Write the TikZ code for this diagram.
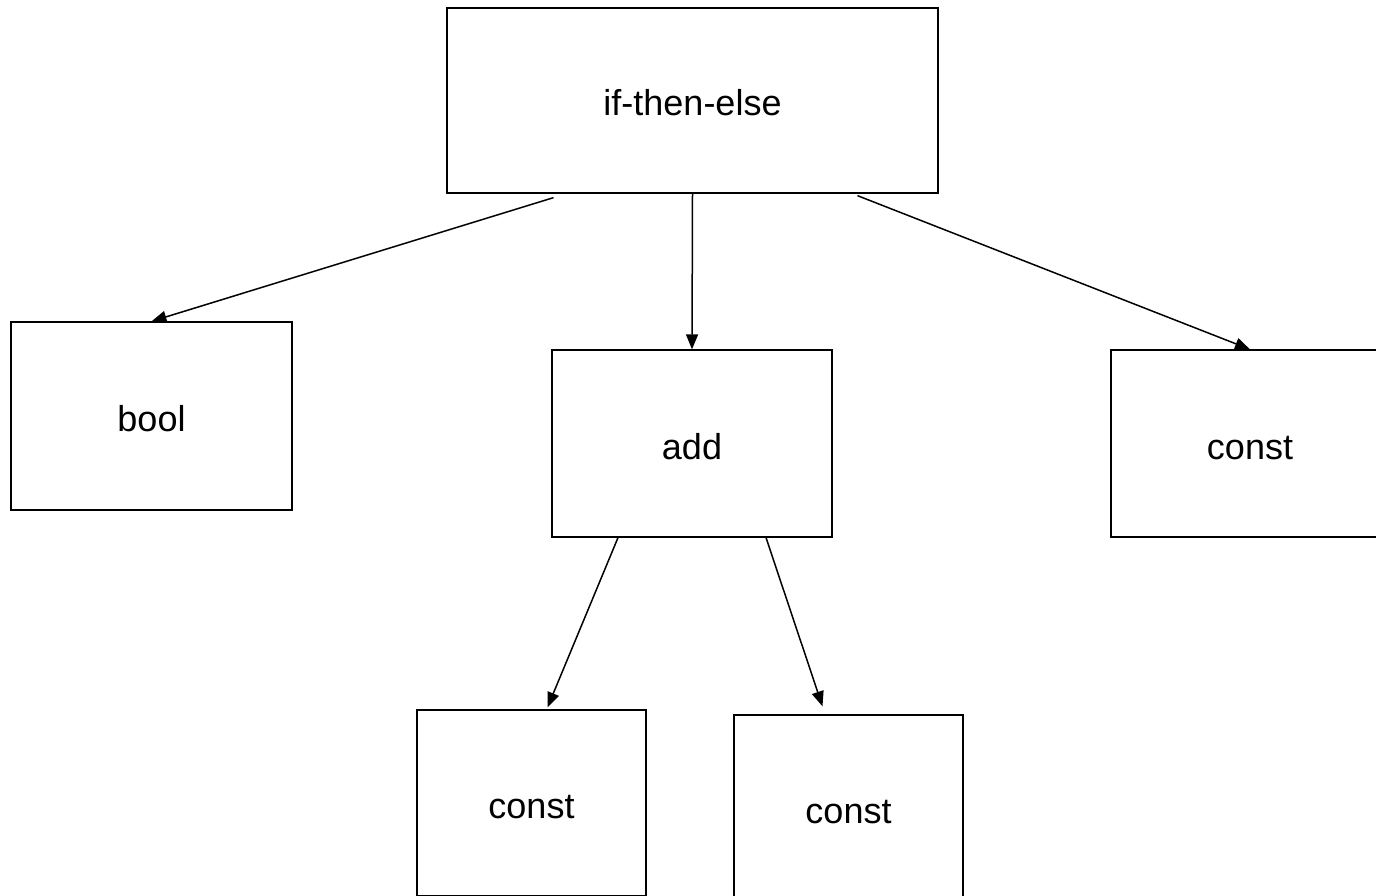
\documentclass[tikz,border=0pt]{standalone}
\usepackage{fontspec}
\setmainfont{Liberation Sans}
\usetikzlibrary{arrows.meta}
\begin{document}
\begin{tikzpicture}[x=1pt,y=-1pt,
  box/.style={draw, line width=1.3pt, minimum width=#1, minimum height=187pt, inner sep=0pt,
    text height=31pt, text depth=0pt, font=\fontsize{36}{40}\selectfont},
  box/.default=280pt,
  conn/.style={draw, line width=1.5pt, -{Triangle[length=15pt,width=12pt]}}]
\useasboundingbox (0,0) rectangle (1376,896);
\clip (0,0) rectangle (1376,896);
\node[box=491pt, minimum height=185pt] (ite) at (692.5,100.5) {if-then-else};
\node[box=281pt, minimum height=188pt] (bool) at (151.5,416) {bool};
\node[box=280pt] (add) at (692,443.5) {add};
\node[box=278pt] (cr) at (1250,443.5) {const};
\node[box=229pt, minimum height=186pt] (c1) at (531.5,803) {const};
\node[box=229pt, minimum height=186pt] (c2) at (848.5,808) {const};
\draw[conn] ([xshift=-139pt,yshift=-4pt]ite.south) -- (bool.north);
\draw[conn] (ite.south) -- (add.north);
\draw[conn] ([xshift=165pt,yshift=-2pt]ite.south) -- (cr.north);
\draw[conn] ([xshift=-74pt]add.south) -- ([xshift=16pt,yshift=2pt]c1.north);
\draw[conn] ([xshift=74pt]add.south) -- ([xshift=-26pt,yshift=8pt]c2.north);
\end{tikzpicture}
\end{document}
